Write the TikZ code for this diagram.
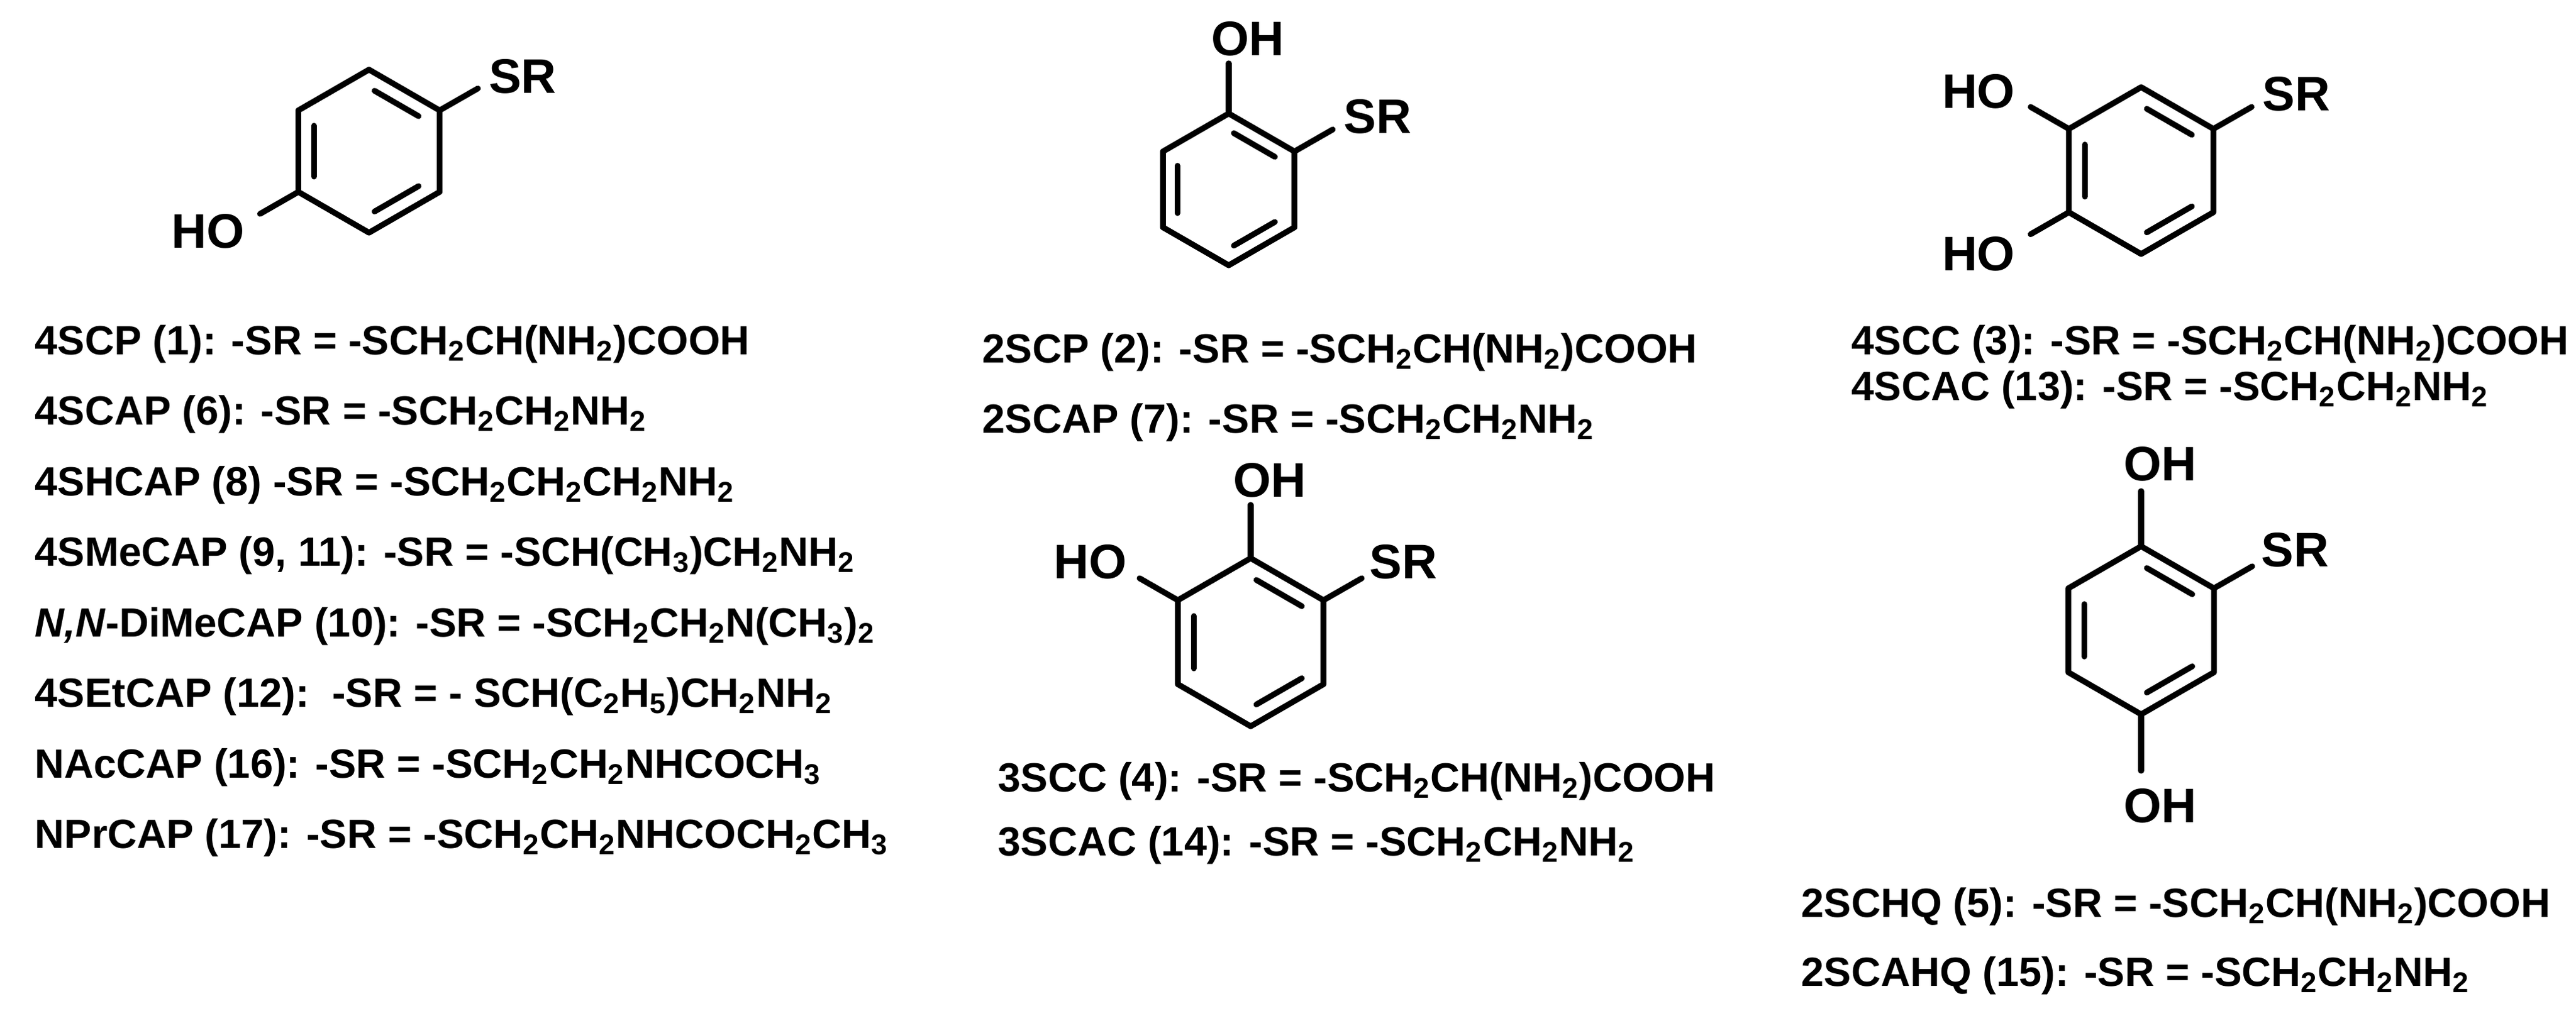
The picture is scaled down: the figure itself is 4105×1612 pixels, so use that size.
\documentclass[tikz,border=0pt]{standalone}
\usepackage{fontspec}
\setmainfont{Liberation Sans}
\usetikzlibrary{calc}
\newcommand\subn[1]{\textsubscript{#1}}
\tikzset{
  bond/.style={line width=2.6pt, line cap=round, line join=round},
  atom/.style={font=\fontsize{22}{24}\selectfont\bfseries, inner sep=0pt},
  lbl/.style={font=\fontsize{18.5}{20}\selectfont\bfseries, inner sep=0pt, anchor=base west},
}
% ring: name, cx, cy, side
\newcommand\benz[4]{%
  \coordinate (#1c) at (#2,#3);
  \coordinate (#11) at (#2,#3-#4);
  \coordinate (#12) at (#2+0.866*#4,#3-0.5*#4);
  \coordinate (#13) at (#2+0.866*#4,#3+0.5*#4);
  \coordinate (#14) at (#2,#3+#4);
  \coordinate (#15) at (#2-0.866*#4,#3+0.5*#4);
  \coordinate (#16) at (#2-0.866*#4,#3-0.5*#4);
  \draw[bond] (#11)--(#12)--(#13)--(#14)--(#15)--(#16)--cycle;
  \foreach \a/\b in {1/2,3/4,5/6}{
    \coordinate (ia) at ($(#1c)!0.78!(#1\a)$);
    \coordinate (ib) at ($(#1c)!0.78!(#1\b)$);
    \draw[bond] ($(ia)!0.1!(ib)$) -- ($(ia)!0.9!(ib)$);
  }
}
\begin{document}
\begin{tikzpicture}[x=0.01cm,y=-0.01cm]
\useasboundingbox (0,0) rectangle (4105,1612);
\fill[white] (0,0) rectangle (4105,1612);

% ---- 4-S-phenol (R1)
\benz{a}{588}{241}{130}
\coordinate (aS) at ($(a2)+(61,-35)$);
\coordinate (aO) at ($(a5)+(-61,35)$);
\draw[bond] (a2)--(aS);
\draw[bond] (a5)--(aO);
\node[atom,anchor=base west] (aSR) at ($(aS)+(17,7)$) {SR};
\node[atom,anchor=base east] (aHO) at ($(aO)+(-24,54)$) {HO};

% ---- 2-S-phenol (R2)
\benz{b}{1958}{302}{121}
\coordinate (bS) at ($(b2)+(61,-35)$);
\coordinate (bO) at ($(b1)+(0,-80)$);
\draw[bond] (b2)--(bS);
\draw[bond] (b1)--(bO);
\node[atom,anchor=base west] (bSR) at ($(bS)+(17,6)$) {SR};
\node[atom,anchor=base west] (bOH) at ($(bO)+(-28,-13)$) {OH};

% ---- 4-S-catechol (R3)
\benz{c}{3412}{272}{133}
\coordinate (cS) at ($(c2)+(61,-35)$);
\coordinate (cO1) at ($(c6)+(-61,-35)$);
\coordinate (cO2) at ($(c5)+(-61,35)$);
\draw[bond] (c2)--(cS);
\draw[bond] (c6)--(cO1);
\draw[bond] (c5)--(cO2);
\node[atom,anchor=base west] (cSR) at ($(cS)+(17,6)$) {SR};
\node[atom,anchor=base east] (cHO1) at ($(cO1)+(-24,2)$) {HO};
\node[atom,anchor=base east] (cHO2) at ($(cO2)+(-24,58)$) {HO};

% ---- 3-S-catechol (R4)
\benz{d}{1993}{1024}{134}
\coordinate (dS) at ($(d2)+(61,-35)$);
\coordinate (dO1) at ($(d1)+(0,-85)$);
\coordinate (dO2) at ($(d6)+(-61,-35)$);
\draw[bond] (d2)--(dS);
\draw[bond] (d1)--(dO1);
\draw[bond] (d6)--(dO2);
\node[atom,anchor=base west] (dSR) at ($(dS)+(12,0)$) {SR};
\node[atom,anchor=base west] (dOH) at ($(dO1)+(-28,-13)$) {OH};
\node[atom,anchor=base east] (dHO) at ($(dO2)+(-20,0)$) {HO};

% ---- 2-S-hydroquinone (R5)
\benz{e}{3412}{1005}{134}
\coordinate (eS) at ($(e2)+(61,-35)$);
\coordinate (eO1) at ($(e1)+(0,-88)$);
\coordinate (eO2) at ($(e4)+(0,90)$);
\draw[bond] (e2)--(eS);
\draw[bond] (e1)--(eO1);
\draw[bond] (e4)--(eO2);
\node[atom,anchor=base west] (eSR) at ($(eS)+(14,0)$) {SR};
\node[atom,anchor=base west] (eOH1) at ($(eO1)+(-28,-17)$) {OH};
\node[atom,anchor=base west] (eOH2) at ($(eO2)+(-28,82)$) {OH};

% ---- labels, left column
\node[lbl] (l1) at (55,565) {4SCP (1): -SR = -SCH\subn{2}CH(NH\subn{2})COOH};
\node[lbl] (l2) at (55,677) {4SCAP (6): -SR = -SCH\subn{2}CH\subn{2}NH\subn{2}};
\node[lbl] (l3) at (55,790) {4SHCAP (8) -SR = -SCH\subn{2}CH\subn{2}CH\subn{2}NH\subn{2}};
\node[lbl] (l4) at (55,902) {4SMeCAP (9, 11): -SR = -SCH(CH\subn{3})CH\subn{2}NH\subn{2}};
\node[lbl] (l5) at (55,1015) {\textit{N,N}-DiMeCAP (10): -SR = -SCH\subn{2}CH\subn{2}N(CH\subn{3})\subn{2}};
\node[lbl] (l6) at (55,1127) {4SEtCAP (12):\ \ -SR = - SCH(C\subn{2}H\subn{5})CH\subn{2}NH\subn{2}};
\node[lbl] (l7) at (55,1240) {NAcCAP (16): -SR = -SCH\subn{2}CH\subn{2}NHCOCH\subn{3}};
\node[lbl] (l8) at (55,1352) {NPrCAP (17): -SR = -SCH\subn{2}CH\subn{2}NHCOCH\subn{2}CH\subn{3}};

% ---- middle column
\node[lbl] (m1) at (1565,578) {2SCP (2): -SR = -SCH\subn{2}CH(NH\subn{2})COOH};
\node[lbl] (m2) at (1565,690) {2SCAP (7): -SR = -SCH\subn{2}CH\subn{2}NH\subn{2}};
\node[lbl] (m3) at (1590,1262) {3SCC (4): -SR = -SCH\subn{2}CH(NH\subn{2})COOH};
\node[lbl] (m4) at (1590,1364) {3SCAC (14): -SR = -SCH\subn{2}CH\subn{2}NH\subn{2}};

% ---- right column
\node[lbl] (r1) at (2950,565) {4SCC (3): -SR = -SCH\subn{2}CH(NH\subn{2})COOH};
\node[lbl] (r2) at (2950,638) {4SCAC (13): -SR = -SCH\subn{2}CH\subn{2}NH\subn{2}};
\node[lbl] (r3) at (2870,1462) {2SCHQ (5): -SR = -SCH\subn{2}CH(NH\subn{2})COOH};
\node[lbl] (r4) at (2870,1572) {2SCAHQ (15): -SR = -SCH\subn{2}CH\subn{2}NH\subn{2}};
\end{tikzpicture}
\end{document}
